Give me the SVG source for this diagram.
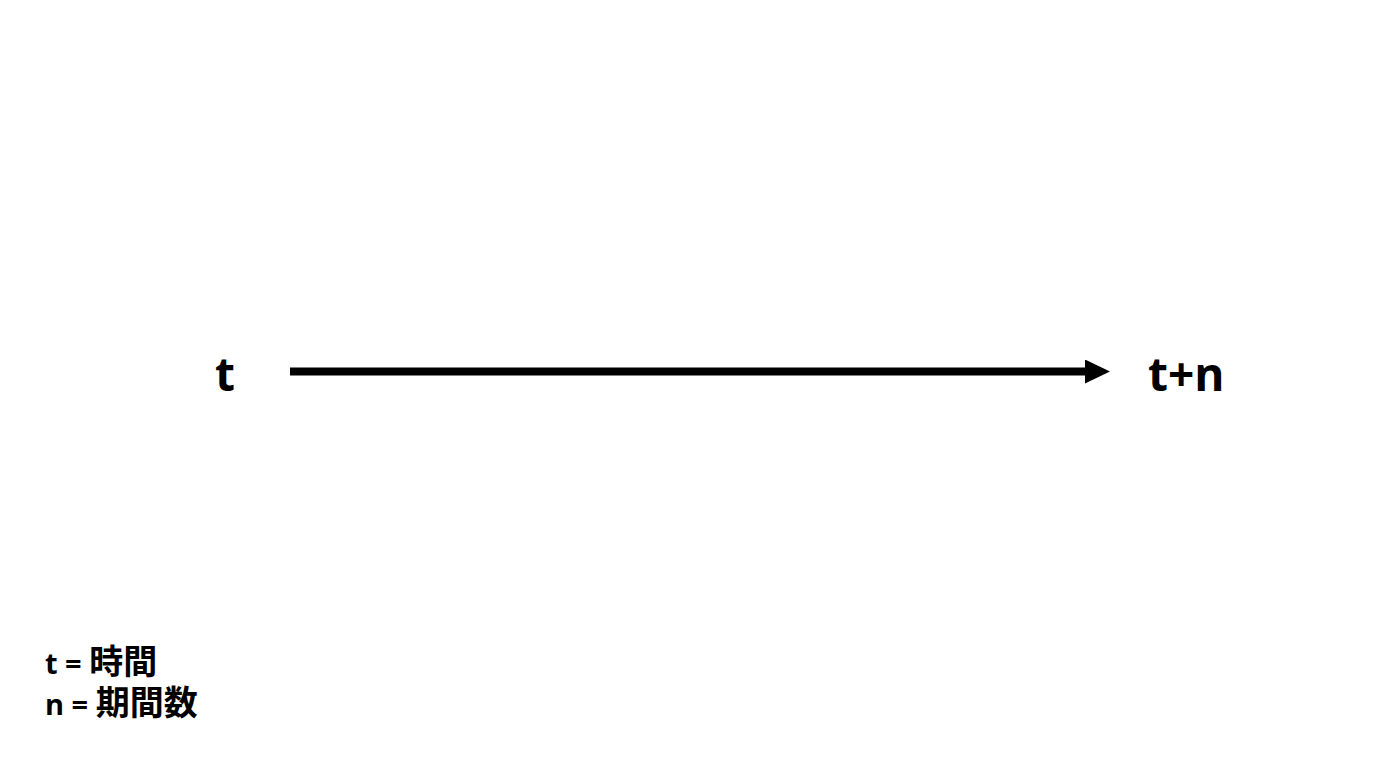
<svg xmlns="http://www.w3.org/2000/svg" width="1376" height="768" viewBox="0 0 1376 768">
<style>
.lbl{font-family:"Open Sans","Noto Sans CJK JP",sans-serif;font-weight:bold;fill:#000}
.big{font-size:46px}
.leg{font-size:29px}
.cjk{font-family:"Noto Sans CJK JP",sans-serif;font-size:34px}
</style>
<defs>
<marker id="ah" markerUnits="userSpaceOnUse" markerWidth="26" markerHeight="26" refX="0" refY="12" orient="auto">
<path d="M0,0 L25,12 L0,24 Z" fill="#000"/>
</marker>
</defs>
<rect width="1376" height="768" fill="#fff"/>
<g id="connectors">
<line x1="290" y1="371.5" x2="1085" y2="371.5" stroke="#000" stroke-width="8" marker-end="url(#ah)"/>
</g>
<g id="node-t"><text class="lbl big" x="215" y="391">t</text></g>
<g id="node-tn"><text class="lbl big" x="1148" y="391">t+n</text></g>
<g id="legend">
<text class="lbl leg" x="45" y="674">t = <tspan class="cjk">時間</tspan></text>
<text class="lbl leg" x="45" y="715">n = <tspan class="cjk">期間数</tspan></text>
</g>
</svg>
